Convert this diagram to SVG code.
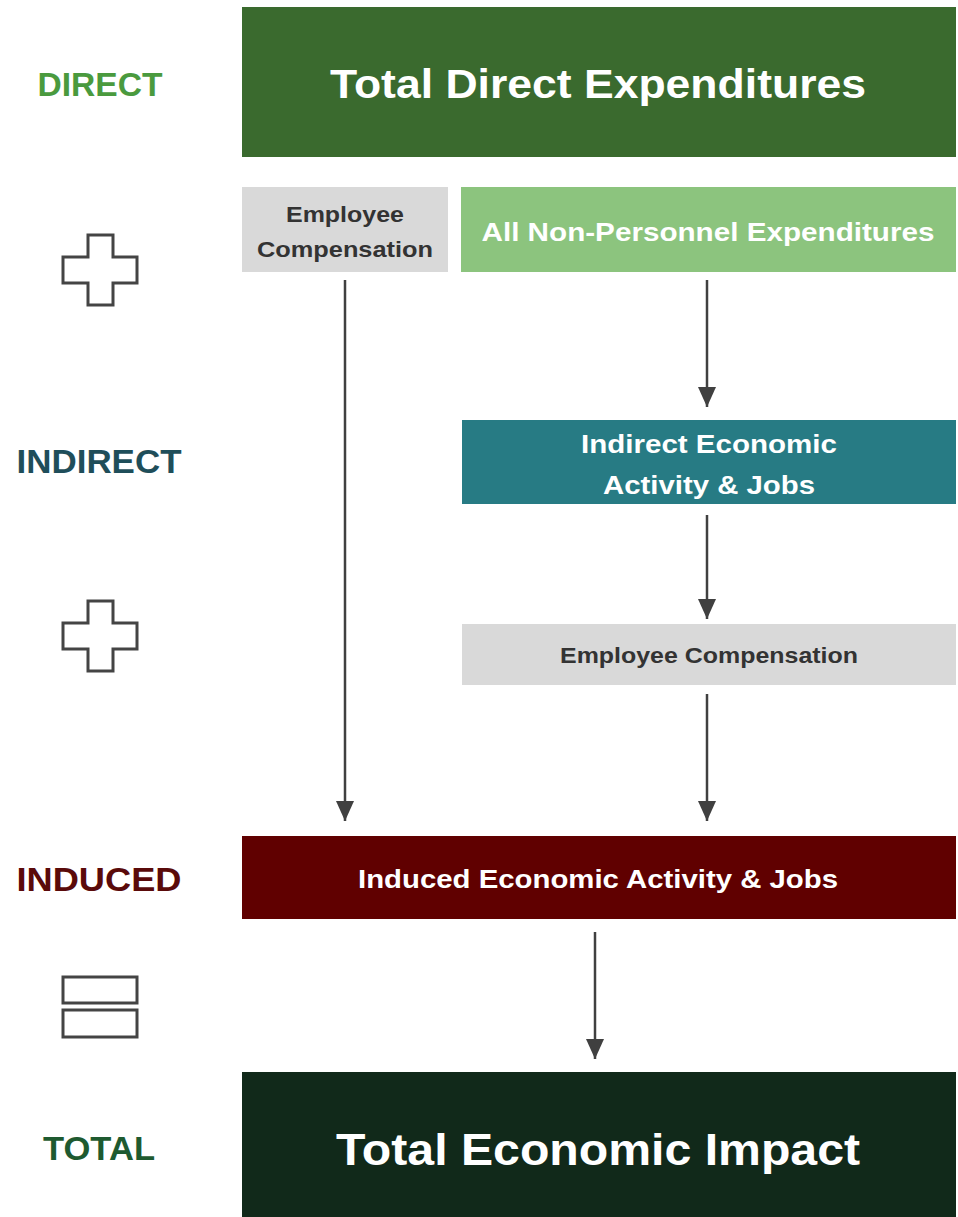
<svg xmlns="http://www.w3.org/2000/svg" width="958" height="1217" viewBox="0 0 958 1217">
<defs>
<style>
.t{font-family:"Liberation Sans","Open Sans",Arial,sans-serif;font-weight:bold;text-anchor:middle}
.w{fill:#ffffff}
.d{fill:#333333}
.icon{fill:#ffffff;stroke:#444444;stroke-width:3}
.conn{stroke:#404040;stroke-width:2.5;fill:none}
</style>
<marker id="ah" viewBox="0 0 10 10" refX="10" refY="5" markerWidth="20" markerHeight="18" markerUnits="userSpaceOnUse" orient="auto" preserveAspectRatio="none">
<path d="M0,0 L10,5 L0,10 z" fill="#404040"/>
</marker>
</defs>
<rect width="958" height="1217" fill="#ffffff"/>

<g id="labels">
<text class="t" x="100" y="96" font-size="34" fill="#4a9a3e" textLength="125" lengthAdjust="spacingAndGlyphs">DIRECT</text>
<text class="t" x="99" y="473" font-size="33" fill="#1f4e5a" textLength="165" lengthAdjust="spacingAndGlyphs">INDIRECT</text>
<text class="t" x="99" y="891" font-size="33" fill="#5a0a0a" textLength="165" lengthAdjust="spacingAndGlyphs">INDUCED</text>
<text class="t" x="99" y="1160" font-size="33" fill="#1e5a30" textLength="112" lengthAdjust="spacingAndGlyphs">TOTAL</text>
</g>

<g id="plus1">
<path class="icon" d="M88,235 H113 V257 H137 V283 H113 V305 H88 V283 H63 V257 H88 Z"/>
</g>
<g id="plus2">
<path class="icon" d="M88,601 H113 V623 H137 V649 H113 V671 H88 V649 H63 V623 H88 Z"/>
</g>
<g id="equals">
<rect class="icon" x="63" y="977" width="74" height="26"/>
<rect class="icon" x="63" y="1010" width="74" height="27"/>
</g>

<g id="connectors">
<line class="conn" x1="345" y1="280" x2="345" y2="821" marker-end="url(#ah)"/>
<line class="conn" x1="707" y1="280" x2="707" y2="407" marker-end="url(#ah)"/>
<line class="conn" x1="707" y1="515" x2="707" y2="619" marker-end="url(#ah)"/>
<line class="conn" x1="707" y1="694" x2="707" y2="821" marker-end="url(#ah)"/>
<line class="conn" x1="595" y1="932" x2="595" y2="1059" marker-end="url(#ah)"/>
</g>

<g id="n-total-direct">
<rect x="242" y="7" width="714" height="150" fill="#3a6a2e"/>
<text class="t w" x="598" y="98" font-size="41" textLength="536" lengthAdjust="spacingAndGlyphs">Total Direct Expenditures</text>
</g>
<g id="n-emp-comp-1">
<rect x="242" y="187" width="206" height="85" fill="#d9d9d9"/>
<text class="t d" x="345" y="222" font-size="22" textLength="118" lengthAdjust="spacingAndGlyphs">Employee</text>
<text class="t d" x="345" y="257" font-size="22" textLength="176" lengthAdjust="spacingAndGlyphs">Compensation</text>
</g>
<g id="n-non-personnel">
<rect x="461" y="187" width="495" height="85" fill="#8cc47e"/>
<text class="t w" x="708" y="241" font-size="25" textLength="453" lengthAdjust="spacingAndGlyphs">All Non-Personnel Expenditures</text>
</g>
<g id="n-indirect">
<rect x="462" y="420" width="494" height="84" fill="#277b84"/>
<text class="t w" x="709" y="453" font-size="26" textLength="256" lengthAdjust="spacingAndGlyphs">Indirect Economic</text>
<text class="t w" x="709" y="494" font-size="26" textLength="212" lengthAdjust="spacingAndGlyphs">Activity &amp; Jobs</text>
</g>
<g id="n-emp-comp-2">
<rect x="462" y="624" width="494" height="61" fill="#d9d9d9"/>
<text class="t d" x="709" y="663" font-size="22" textLength="298" lengthAdjust="spacingAndGlyphs">Employee Compensation</text>
</g>
<g id="n-induced">
<rect x="242" y="836" width="714" height="83" fill="#600000"/>
<text class="t w" x="598" y="888" font-size="26" textLength="480" lengthAdjust="spacingAndGlyphs">Induced Economic Activity &amp; Jobs</text>
</g>
<g id="n-total-impact">
<rect x="242" y="1072" width="714" height="145" fill="#11291a"/>
<text class="t w" x="598" y="1165" font-size="44" textLength="524" lengthAdjust="spacingAndGlyphs">Total Economic Impact</text>
</g>
</svg>
